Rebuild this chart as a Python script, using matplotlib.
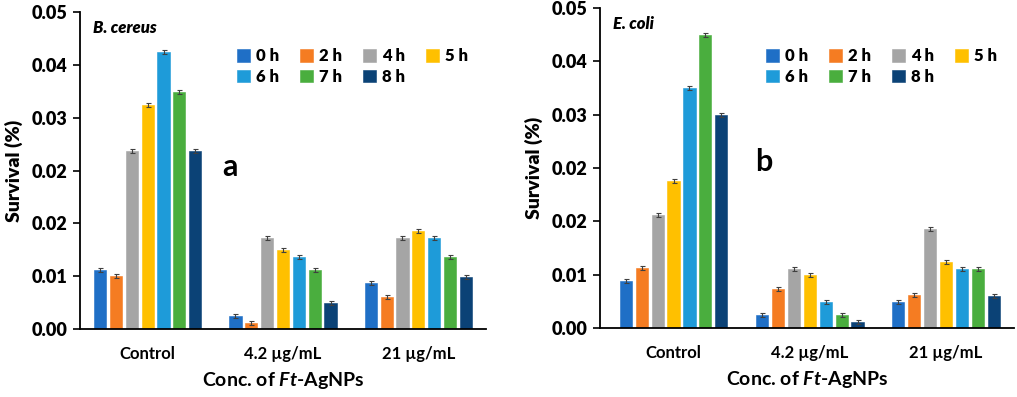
import matplotlib
matplotlib.use("Agg")
import matplotlib.pyplot as plt
import numpy as np
from matplotlib.ticker import FixedLocator, FixedFormatter

plt.rcParams['font.family'] = ['Lato', 'DejaVu Sans']
plt.rcParams['mathtext.fontset'] = 'custom'
plt.rcParams['mathtext.it'] = 'Lato:italic:bold'
plt.rcParams['mathtext.rm'] = 'Lato:bold'

categories = ["Control", "4.2 µg/mL", "21 µg/mL"]
hours = ["0 h", "2 h", "4 h", "5 h", "6 h", "7 h", "8 h"]
colors = ["#1f6fc6", "#f57c22", "#a5a5a5", "#ffc000", "#1e9bd9", "#4aae3e", "#0b4276"]

# B. cereus: rows = hours, columns = categories
bc_0h = [0.0089, 0.0019, 0.0069]
bc_2h = [0.0080, 0.0009, 0.0049]
bc_4h = [0.0269, 0.0138, 0.0138]
bc_5h = [0.0339, 0.0119, 0.0149]
bc_6h = [0.0420, 0.0109, 0.0138]
bc_7h = [0.0359, 0.0089, 0.0109]
bc_8h = [0.0269, 0.0039, 0.0079]

# E. coli
ec_0h = [0.0070, 0.0019, 0.0039]
ec_2h = [0.0090, 0.0059, 0.0049]
ec_4h = [0.0170, 0.0089, 0.0149]
ec_5h = [0.0220, 0.0079, 0.0099]
ec_6h = [0.0360, 0.0039, 0.0089]
ec_7h = [0.0440, 0.0019, 0.0089]
ec_8h = [0.0319, 0.0009, 0.0048]

err = [0.0003, 0.0003, 0.0003]

yticks = [0.0, 0.008, 0.016, 0.024, 0.032, 0.040, 0.048]
ytick_labels = ["0.00", "0.01", "0.02", "0.02", "0.03", "0.04", "0.05"]

fig = plt.figure(figsize=(10.17, 3.97), dpi=100)
ax1 = fig.add_axes([80/1017, 68/397, 406/1017, 317/397])
ax2 = fig.add_axes([600/1017, 69/397, 414/1017, 320/397])

def draw(ax, series, species, letter, letter_xy, leg_xy, xlim_left):
    x = np.arange(len(categories))
    pitch = 0.117
    width = 0.089
    n = len(series)
    for i, (vals, c, lab) in enumerate(zip(series, colors, hours)):
        pos = x + (i - (n - 1) / 2) * pitch
        ax.bar(pos, vals, width=width, color=c, edgecolor=c, linewidth=0.4,
               label=lab, zorder=2)
        ax.errorbar(pos, vals, yerr=err, fmt='none', ecolor='#404040',
                    elinewidth=0.8, capsize=1.8, capthick=0.8, zorder=3)
    ax.set_xlim(xlim_left, 2.5)
    ax.set_ylim(0, 0.048)
    ax.yaxis.set_major_locator(FixedLocator(yticks))
    ax.yaxis.set_major_formatter(FixedFormatter(ytick_labels))
    ax.set_xticks(x)
    ax.set_xticklabels(categories, fontsize=12, fontweight='bold')
    ax.tick_params(axis='x', length=0, pad=12)
    ax.tick_params(axis='y', direction='out', length=5, width=1.2, labelsize=13, pad=4)
    for t in ax.get_yticklabels():
        t.set_fontweight('heavy')
    for s in ['top', 'right']:
        ax.spines[s].set_visible(False)
    ax.spines['left'].set_linewidth(1.3)
    ax.spines['bottom'].set_linewidth(1.3)
    ax.set_ylabel("Survival (%)", fontsize=14, fontweight='heavy', labelpad=6)
    ax.set_xlabel(r"Conc. of $\mathit{Ft}$-AgNPs", fontsize=14, fontweight='bold', labelpad=6)
    ax.text(0.032, 0.95, species, transform=ax.transAxes, fontsize=12,
            fontweight='heavy', fontstyle='italic', va='center', ha='left')
    ax.text(letter_xy[0], letter_xy[1], letter, transform=ax.transAxes,
            fontsize=22, fontweight='bold', ha='center', va='center')
    handles, labels = ax.get_legend_handles_labels()
    order = [0, 4, 1, 5, 2, 6, 3]
    ax.legend([handles[k] for k in order], [labels[k] for k in order],
              loc='upper left', bbox_to_anchor=leg_xy, ncol=4, frameon=False,
              handlelength=0.75, handleheight=0.75, handletextpad=0.35,
              columnspacing=1.3, labelspacing=0.25, borderpad=0,
              prop={'weight': 'heavy', 'size': 12})

draw(ax1, [bc_0h, bc_2h, bc_4h, bc_5h, bc_6h, bc_7h, bc_8h], "B. cereus", "a",
     ((230-80)/406, (329-167)/317), ((229-80)/406, (329-40)/317), -0.5)
draw(ax2, [ec_0h, ec_2h, ec_4h, ec_5h, ec_6h, ec_7h, ec_8h], "E. coli", "b",
     ((764-600)/414, (328-162)/320), ((758-600)/414, (328-40)/320), -0.54)

fig.savefig("out.png", dpi=100)
